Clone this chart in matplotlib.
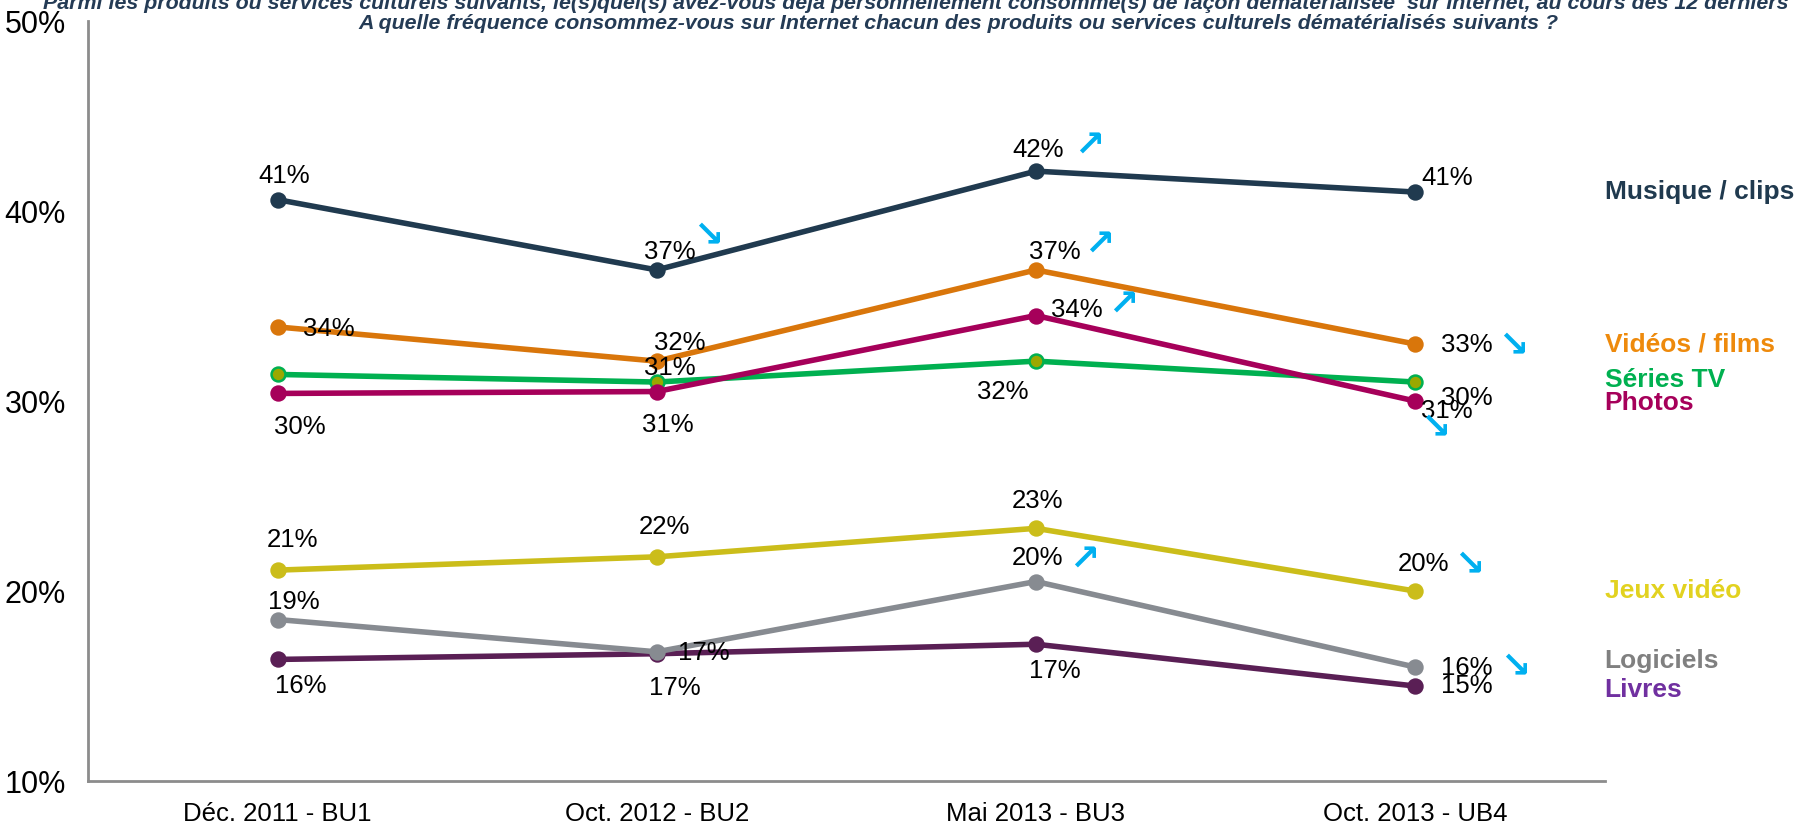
import matplotlib
matplotlib.use("Agg")
import matplotlib.pyplot as plt
from matplotlib.ticker import FuncFormatter, MultipleLocator

plt.rcParams['font.family'] = ['Liberation Sans', 'DejaVu Sans']

# ---- data -------------------------------------------------------------
periods = ['Déc. 2011 - BU1', 'Oct. 2012 - BU2', 'Mai 2013 - BU3', 'Oct. 2013 - UB4']

musique = [40.6, 36.9, 42.1, 41.0]
videos = [33.9, 32.1, 36.9, 33.0]
series_tv = [31.4, 31.0, 32.1, 31.0]
photos = [30.4, 30.5, 34.5, 30.0]
jeux = [21.1, 21.8, 23.3, 20.0]
logiciels = [18.5, 16.8, 20.5, 16.0]
livres = [16.4, 16.7, 17.2, 15.0]

# value labels as printed on the chart
musique_lbl = ['41%', '37%', '42%', '41%']
videos_lbl = ['34%', '32%', '37%', '33%']
series_lbl = [None, '31%', '32%', '30%']
photos_lbl = ['30%', '31%', '34%', '31%']
jeux_lbl = ['21%', '22%', '23%', '20%']
logiciels_lbl = ['19%', '17%', '20%', '16%']
livres_lbl = ['16%', '17%', '17%', '15%']

TITLE_1 = ("Parmi les produits ou services culturels suivants, le(s)quel(s) avez-vous déjà "
           "personnellement consommé(s) de façon dématérialisée  sur Internet, au cours des 12 derniers")
TITLE_2 = ("A quelle fréquence consommez-vous sur Internet chacun des produits "
           "ou services culturels dématérialisés suivants ?")

# ---- styling ----------------------------------------------------------
ARROW_COLOR = '#00B0F0'
TITLE_COLOR = '#243B55'

# name, values, labels, line colour, name colour, marker face, label offsets (px), name y
series = [
    ('Musique / clips', musique, musique_lbl, '#203A4F', '#203A4F', None,
     [(7, -24), (13, -18), (2, -21), (32, -14)], 41.0),
    ('Vidéos / films', videos, videos_lbl, '#D9760B', '#EE8A0C', None,
     [(51, 2), (23, -18), (19, -18), (52, 1)], 33.0),
    ('Séries TV', series_tv, series_lbl, '#00B050', '#00B050', '#9BA800',
     [None, (13, -14), (-33, 31), (52, 16)], 31.1),
    ('Photos', photos, photos_lbl, '#A6005A', '#A6005A', None,
     [(22, 34), (11, 33), (41, -6), (32, 10)], 29.9),
    ('Jeux vidéo', jeux, jeux_lbl, '#CBBD1A', '#E2D220', None,
     [(15, -30), (8, -30), (2, -27), (8, -27)], 20.0),
    ('Livres', livres, livres_lbl, '#5A1F55', '#7030A0', None,
     [(23, 27), (18, 34), (19, 27), (52, 0)], 14.8),
    ('Logiciels', logiciels, logiciels_lbl, '#878B91', '#808080', None,
     [(16, -18), (47, 1), (2, -24), (52, 1)], 16.3),
]

# trend arrows: (series values, period index, glyph, dx, dy) in px from point
arrows = [
    (musique, 1, '↘', 51, -34),
    (musique, 2, '↗', 53, -25),
    (videos, 2, '↗', 63, -24),
    (photos, 2, '↗', 87, -10),
    (logiciels, 2, '↗', 48, -21),
    (videos, 3, '↘', 98, 2),
    (photos, 3, '↘', 20, 27),
    (jeux, 3, '↘', 54, -26),
    (logiciels, 3, '↘', 100, 0),
]

fig = plt.figure(figsize=(17.95, 8.25), dpi=100)
ax = fig.add_axes([0.049, 0.0533, 0.845, 0.9212])

x = list(range(len(periods)))
for name, vals, lbls, lc, nc, mface, offs, name_y in series:
    ax.plot(x, vals, color=lc, lw=4, marker='o', ms=10,
            markerfacecolor=mface if mface else lc, markeredgecolor=lc,
            markeredgewidth=1.8, solid_capstyle='round', zorder=3)
    for xi, v, lbl, off in zip(x, vals, lbls, offs):
        if lbl is None:
            continue
        ax.annotate(lbl, (xi, v), xytext=(off[0], -off[1]), textcoords='offset pixels',
                    ha='center', va='center', fontsize=18.5, color='black', zorder=5)
    ax.annotate(name, (1, name_y), xycoords=('axes fraction', 'data'),
                xytext=(0, 0), textcoords='offset pixels',
                ha='left', va='center', fontsize=19, fontweight='bold', color=nc,
                annotation_clip=False)

for vals, i, glyph, dx, dy in arrows:
    ax.annotate(glyph, (i, vals[i]), xytext=(dx, -dy), textcoords='offset pixels',
                ha='center', va='center', fontsize=26, fontweight='bold',
                color=ARROW_COLOR, family='DejaVu Sans', zorder=5)

ax.set_xlim(-0.5, 3.5)
ax.set_ylim(10, 50)
ax.yaxis.set_major_locator(MultipleLocator(10))
ax.yaxis.set_major_formatter(FuncFormatter(lambda v, p: f'{v:.0f}%'))
ax.set_xticks(x)
ax.set_xticklabels(periods)
ax.tick_params(axis='both', length=0, labelsize=18.5, colors='black')
ax.tick_params(axis='y', pad=16, labelsize=22)
ax.tick_params(axis='x', pad=15)
for s in ('top', 'right'):
    ax.spines[s].set_visible(False)
for s in ('left', 'bottom'):
    ax.spines[s].set_color('#8C8C8C')
    ax.spines[s].set_linewidth(2)

fig.text(0.024, 0.996, TITLE_1, ha='left', va='center', fontsize=15.4,
         fontweight='bold', style='italic', color=TITLE_COLOR)
fig.text(0.534, 0.972, TITLE_2, ha='center', va='center', fontsize=15.4,
         fontweight='bold', style='italic', color=TITLE_COLOR)

fig.savefig('out.png', dpi=100)
